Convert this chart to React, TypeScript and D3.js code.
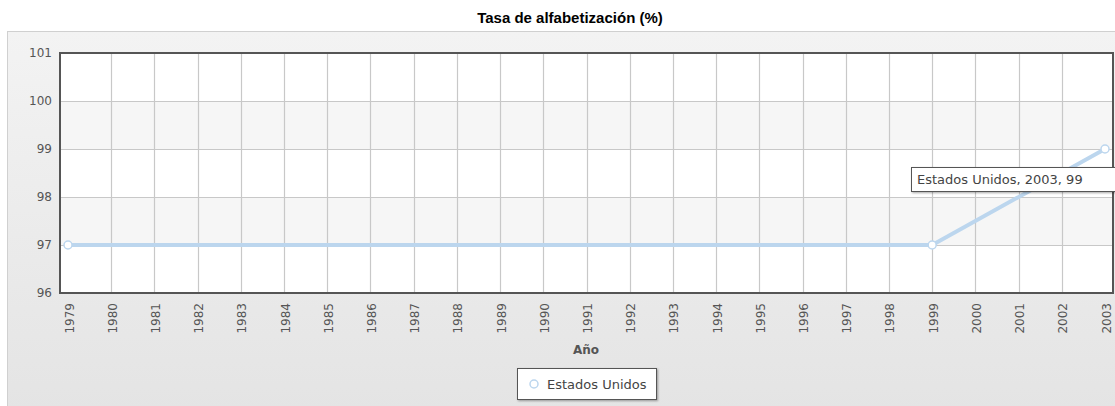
import React from "react";
import * as d3 from "d3";

const years: number[] = d3.range(1979, 2004);
const series = "Estados Unidos";
const pointYears: number[] = [1979, 1999, 2003];
const pointValues: number[] = [97, 97, 99];
const yTicks: number[] = [96, 97, 98, 99, 100, 101];
const title = "Tasa de alfabetización (%)";
const xTitle = "Año";
const tooltipText = "Estados Unidos, 2003, 99";

const W = 1115;
const H = 406;
const plot = { left: 60, right: 1113, top: 53, bottom: 293 };

export default function App() {
  const x = d3
    .scaleLinear()
    .domain([1979, 2003])
    .range([plot.left + 8, plot.right - 8]);
  const y = d3.scaleLinear().domain([96, 101]).range([plot.bottom, plot.top]);
  const pts = pointYears.map((yr, i) => ({ yr, v: pointValues[i] }));
  const line = d3
    .line<{ yr: number; v: number }>()
    .x((d) => x(d.yr))
    .y((d) => y(d.v));
  const font = "'DejaVu Sans', Verdana, sans-serif";
  return (
    <svg
      width={W}
      height={H}
      style={{ position: "absolute", left: 0, top: 0 }}
      fontFamily={font}
    >
      <defs>
        <linearGradient id="bg" x1="0" y1="0" x2="0" y2="1">
          <stop offset="0" stopColor="#f3f3f3" />
          <stop offset="1" stopColor="#e4e4e4" />
        </linearGradient>
        <filter id="sh" x="-10%" y="-10%" width="130%" height="140%">
          <feDropShadow dx="1" dy="1" stdDeviation="1" floodColor="#000" floodOpacity="0.35" />
        </filter>
      </defs>
      <rect width={W} height={H} fill="#fff" />
      <text
        x={570}
        y={23}
        textAnchor="middle"
        fontFamily="Arial, 'Liberation Sans', sans-serif"
        fontWeight="bold"
        fontSize={15}
        fill="#000"
      >
        {title}
      </text>
      <rect x={7.5} y={31.5} width={1120} height={380} fill="url(#bg)" stroke="#d0d0d0" />
      {yTicks.slice(0, -1).map((t, i) => (
        <rect
          key={t}
          x={plot.left}
          y={y(t + 1)}
          width={plot.right - plot.left}
          height={y(t) - y(t + 1)}
          fill={i % 2 === 1 ? "#f6f6f6" : "#ffffff"}
        />
      ))}
      {years.slice(1, -1).map((yr) => (
        <line
          key={yr}
          x1={Math.round(x(yr)) + 0.5}
          x2={Math.round(x(yr)) + 0.5}
          y1={plot.top}
          y2={plot.bottom}
          stroke="#c8c8c8"
          strokeWidth={1.2}
        />
      ))}
      {yTicks.slice(1, -1).map((t) => (
        <line
          key={t}
          x1={plot.left}
          x2={plot.right}
          y1={y(t) + 0.5}
          y2={y(t) + 0.5}
          stroke="#c8c8c8"
          strokeWidth={1.2}
        />
      ))}
      <rect
        x={plot.left}
        y={plot.top}
        width={plot.right - plot.left}
        height={plot.bottom - plot.top}
        fill="none"
        stroke="#555"
        strokeWidth={2}
      />
      {yTicks.map((t) => (
        <text key={t} x={52} y={y(t) + 4} textAnchor="end" fontSize={12} fill="#555">
          {t}
        </text>
      ))}
      {years.map((yr) => (
        <text
          key={yr}
          transform={`translate(${x(yr) + 5.5},${plot.bottom + 10}) rotate(-90)`}
          textAnchor="end"
          fontSize={12}
          fill="#555"
        >
          {yr}
        </text>
      ))}
      <text x={586} y={354} textAnchor="middle" fontSize={12} fontWeight="bold" fill="#555">
        {xTitle}
      </text>
      <path d={line(pts) || ""} fill="none" stroke="#bcd6ee" strokeWidth={4} strokeLinejoin="round" />
      {pts.map((p) => (
        <circle key={p.yr} cx={x(p.yr)} cy={y(p.v)} r={4} fill="#fff" stroke="#bcd6ee" strokeWidth={1.5} />
      ))}
      <g filter="url(#sh)">
        <rect x={911.5} y={167.5} width={215} height={24} fill="#fff" stroke="#555" strokeWidth={1} />
      </g>
      <text x={917} y={184} fontSize={13} fill="#444">
        {tooltipText}
      </text>
      <g filter="url(#sh)">
        <rect x={517.5} y={368.5} width={139} height={31} fill="#fff" stroke="#555" strokeWidth={1} />
      </g>
      <circle cx={534} cy={384} r={4} fill="#fff" stroke="#bcd6ee" strokeWidth={1.5} />
      <text x={547} y={389} fontSize={13} fill="#444">
        {series}
      </text>
    </svg>
  );
}
